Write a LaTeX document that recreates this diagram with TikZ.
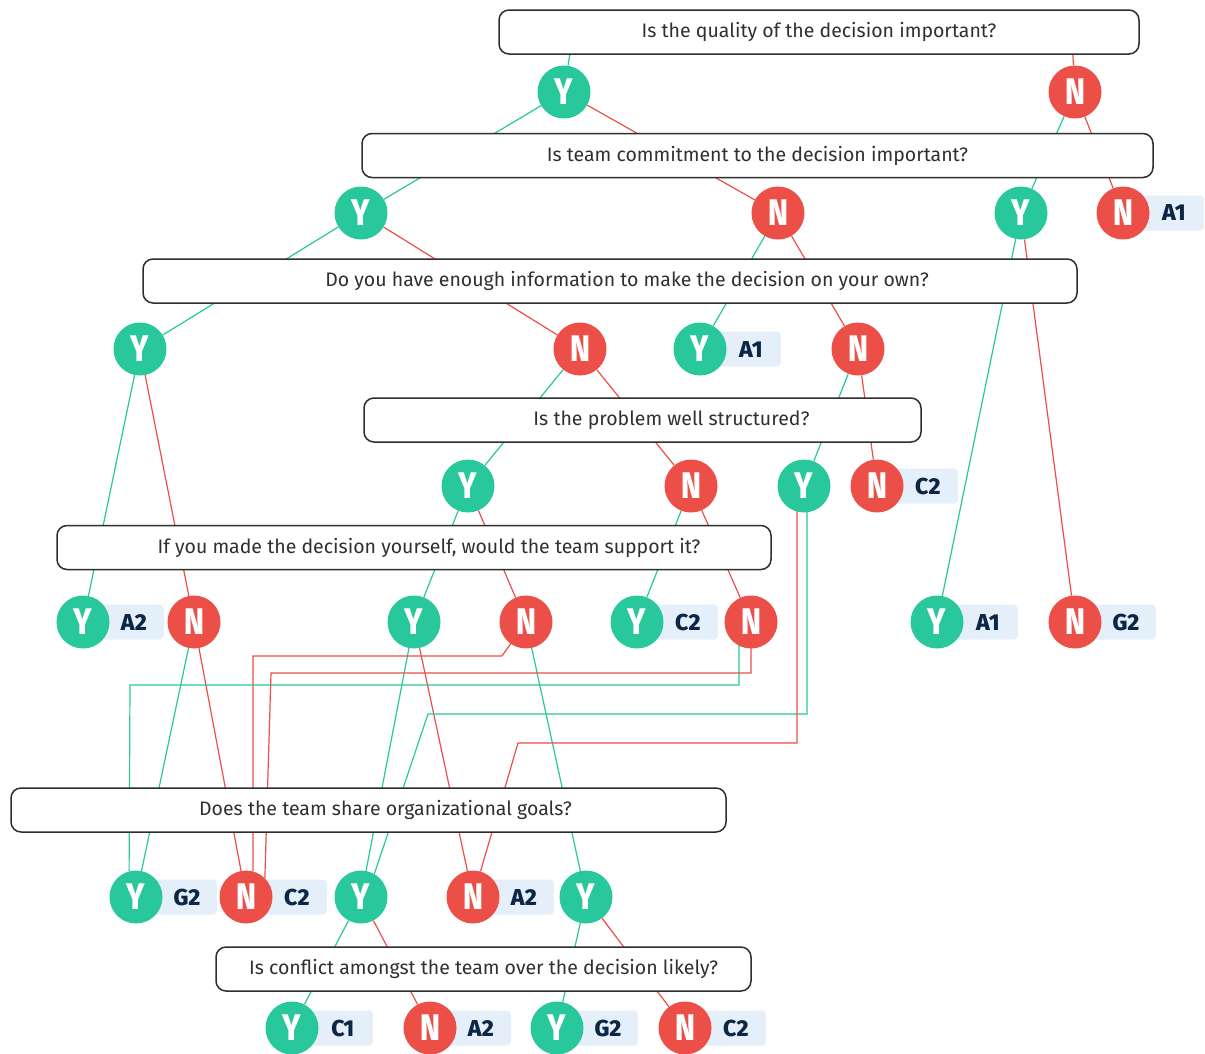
\documentclass[tikz,border=0pt]{standalone}
\usepackage{fontspec}
\setmainfont{Fira Sans}
\newfontfamily\markfont{Fira Sans ExtraBold}[FakeStretch=0.82]
\newfontfamily\tagfont{Fira Sans ExtraBold}
\usetikzlibrary{positioning}

\definecolor{ygreen}{HTML}{29C79C}
\definecolor{nred}{HTML}{EC4F48}
\definecolor{tagblue}{HTML}{E5EFFA}
\definecolor{navy}{HTML}{0C2646}
\definecolor{boxline}{HTML}{2E2E2E}
\definecolor{qtext}{HTML}{303030}

\pgfdeclarelayer{edges}
\pgfdeclarelayer{boxes}
\pgfdeclarelayer{tags}
\pgfsetlayers{edges,boxes,tags,main}

\begin{document}
\begin{tikzpicture}[x=1pt,y=-1pt,
	question/.style={draw=boxline,line width=1.5pt,fill=white,rounded corners=10pt,minimum height=44pt,inner sep=0pt,text=qtext,font=\fontsize{19.5}{22}\selectfont},
	yes/.style={circle,fill=ygreen,minimum size=53pt,inner sep=0pt,text=white,font=\markfont\fontsize{37}{37}\selectfont},
	no/.style={yes,fill=nred},
	tag/.style={fill=tagblue,rounded corners=4pt,minimum width=64pt,minimum height=35pt,inner sep=0pt,text=navy,font=\tagfont\fontsize{23}{25}\selectfont},
	ybranch/.style={draw=ygreen,line width=1.2pt},
	nbranch/.style={draw=nred,line width=1.2pt}]
	\useasboundingbox (0,0) rectangle (1205,1053);

	% answers
	\node[yes] (y1) at (564,92) {Y};
	\node[no] (n1) at (1075,92) {N};
	\node[yes] (y2a) at (361,213) {Y};
	\node[no] (n2a) at (778,213) {N};
	\node[yes] (y2b) at (1021,213) {Y};
	\node[no] (n2b) at (1123,213) {N};
	\node[yes] (y3a) at (140,349) {Y};
	\node[no] (n3a) at (580,349) {N};
	\node[yes] (y3b) at (700,349) {Y};
	\node[no] (n3b) at (858,349) {N};
	\node[yes] (y4a) at (468,486) {Y};
	\node[no] (n4a) at (691,486) {N};
	\node[yes] (y4b) at (804,486) {Y};
	\node[no] (n4b) at (877,486) {N};
	\node[yes] (y5a) at (83,622) {Y};
	\node[no] (n5a) at (194,622) {N};
	\node[yes] (y5b) at (414,622) {Y};
	\node[no] (n5b) at (526,622) {N};
	\node[yes] (y5c) at (637,622) {Y};
	\node[no] (n5c) at (751,622) {N};
	\node[yes] (y5d) at (937,622) {Y};
	\node[no] (n5d) at (1075,622) {N};
	\node[yes] (y6a) at (136,897) {Y};
	\node[no] (n6a) at (246,897) {N};
	\node[yes] (y6b) at (361,897) {Y};
	\node[no] (n6b) at (473,897) {N};
	\node[yes] (y6c) at (586,897) {Y};
	\node[yes] (y7a) at (292,1028) {Y};
	\node[no] (n7a) at (430,1028) {N};
	\node[yes] (y7b) at (557,1028) {Y};
	\node[no] (n7b) at (685,1028) {N};

	% outcomes
	\begin{pgfonlayer}{tags}
		\foreach \who/\what in {n2b/A1,y3b/A1,n4b/C2,y5a/A2,y5c/C2,y5d/A1,n5d/G2,
			y6a/G2,n6a/C2,n6b/A2,y7a/C1,n7a/A2,y7b/G2,n7b/C2}
			\node[tag,right=-10pt of \who] (t-\who) {\hspace*{4pt}\what};
	\end{pgfonlayer}

	% questions
	\begin{pgfonlayer}{boxes}
		\node[question,minimum width=640pt] (q1) at (819,32) {Is the quality of the decision important?};
		\node[question,minimum width=791pt] (q2) at (757.5,155.5) {Is team commitment to the decision important?};
		\node[question,minimum width=934pt] (q3) at (610,281) {\hspace*{34pt}Do you have enough information to make the decision on your own?};
		\node[question,minimum width=557pt] (q4) at (642.5,420) {\hspace*{58pt}Is the problem well structured?};
		\node[question,minimum width=714pt] (q5) at (414,547.5) {\hspace*{30pt}If you made the decision yourself, would the team support it?};
		\node[question,minimum width=715pt] (q6) at (368.5,810) {\hspace*{34pt}Does the team share organizational goals?};
		\node[question,minimum width=535pt] (q7) at (483.5,969) {Is conflict amongst the team over the decision likely?};
	\end{pgfonlayer}

	% branches, drawn behind the questions
	\begin{pgfonlayer}{edges}
		\fill[white] (0,0) rectangle (1205,1053);
		\coordinate (q1y) at (572,40);
		\coordinate (q1n) at (1072,40);
		\path (q1y) edge[ybranch] (y1)
			(q1n) edge[nbranch] (n1)
			(y1) edge[ybranch] (y2a) edge[nbranch] (n2a)
			(n1) edge[ybranch] (y2b) edge[nbranch] (n2b)
			(y2a) edge[ybranch] (y3a) edge[nbranch] (n3a)
			(n2a) edge[ybranch] (y3b) edge[nbranch] (n3b)
			(y2b) edge[ybranch] (y5d) edge[nbranch] (n5d)
			(y3a) edge[ybranch] (y5a) edge[nbranch] (n5a)
			(n3a) edge[ybranch] (y4a) edge[nbranch] (n4a)
			(n3b) edge[ybranch] (y4b) edge[nbranch] (n4b)
			(y4a) edge[ybranch] (y5b) edge[nbranch] (n5b)
			(n4a) edge[ybranch] (y5c) edge[nbranch] (n5c)
			(n5a) edge[ybranch] (y6a) edge[nbranch] (n6a)
			(y5b) edge[ybranch] (y6b) edge[nbranch] (n6b)
			(n5b) edge[ybranch] (y6c)
			(y6b) edge[ybranch] (y7a) edge[nbranch] (n7a)
			(y6c) edge[ybranch] (y7b) edge[nbranch] (n7b);
		\draw[nbranch] (n5b.center) -- (502,656) -- (253,656) -- (n6a.75);
		\draw[ybranch] ([xshift=-12pt]n5c.center) |- (130,685) -- (y6a.105);
		\draw[nbranch] (n5c.center) |- (271,673) -- (n6a.north east);
		\draw[ybranch] ([xshift=3pt]y4b.center) |- (428,714) -- (y6b.60);
		\draw[nbranch] ([xshift=-7pt]y4b.center) |- (518,743) -- (n6b);
	\end{pgfonlayer}
\end{tikzpicture}
\end{document}
